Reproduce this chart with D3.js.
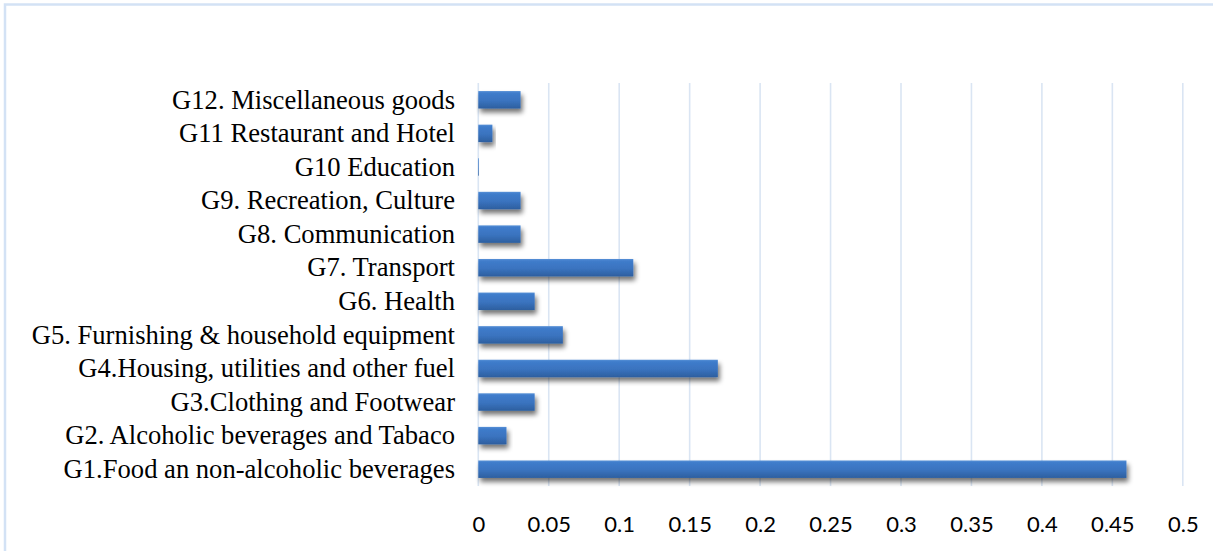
<!DOCTYPE html>
<html>
<head>
<meta charset="utf-8">
<script src="https://cdn.jsdelivr.net/npm/d3@7"></script>
<style>
  html, body { margin: 0; padding: 0; background: #fff; }
  svg { display: block; }
</style>
</head>
<body>
<svg id="chart" width="1213" height="551"></svg>
<script>
// Expenditure groups, listed from top to bottom as drawn
const categories = [
  "G12. Miscellaneous goods",
  "G11 Restaurant and Hotel",
  "G10 Education",
  "G9. Recreation, Culture",
  "G8. Communication",
  "G7. Transport",
  "G6. Health",
  "G5. Furnishing & household equipment",
  "G4.Housing, utilities and other fuel",
  "G3.Clothing and Footwear",
  "G2. Alcoholic beverages and Tabaco",
  "G1.Food an non-alcoholic beverages"
];
const values = [0.03, 0.01, 0.0005, 0.03, 0.03, 0.11, 0.04, 0.06, 0.17, 0.04, 0.02, 0.46];
const tickValues = [0, 0.05, 0.1, 0.15, 0.2, 0.25, 0.3, 0.35, 0.4, 0.45, 0.5];

const svg = d3.select("#chart");
const W = 1213, H = 551;
const plot = { left: 478.3, right: 1182.8, top: 83, bottom: 486 };

// Outer chart frame
svg.append("rect")
  .attr("x", 5).attr("y", 4.5)
  .attr("width", W + 20).attr("height", H + 20)
  .attr("fill", "#fff")
  .attr("stroke", "#d3e2f5")
  .attr("stroke-width", 2.5);

const defs = svg.append("defs");
const grad = defs.append("linearGradient")
  .attr("id", "barFill").attr("x1", 0).attr("y1", 0).attr("x2", 0).attr("y2", 1);
grad.append("stop").attr("offset", "0%").attr("stop-color", "#5790d6");
grad.append("stop").attr("offset", "12%").attr("stop-color", "#3f7ccb");
grad.append("stop").attr("offset", "55%").attr("stop-color", "#3a73bf");
grad.append("stop").attr("offset", "100%").attr("stop-color", "#2d5f9f");

const shadow = defs.append("filter").attr("id", "barShadow")
  .attr("x", "-10%").attr("y", "-40%").attr("width", "130%").attr("height", "200%");
shadow.append("feGaussianBlur").attr("in", "SourceAlpha").attr("stdDeviation", 2.4).attr("result", "b");
shadow.append("feOffset").attr("in", "b").attr("dx", 2).attr("dy", 3.5).attr("result", "o");
shadow.append("feComponentTransfer").attr("in", "o").attr("result", "s")
  .append("feFuncA").attr("type", "linear").attr("slope", 0.55);
const merge = shadow.append("feMerge");
merge.append("feMergeNode").attr("in", "s");
merge.append("feMergeNode").attr("in", "SourceGraphic");

const x = d3.scaleLinear().domain([0, 0.5]).range([plot.left, plot.right]);
const y = d3.scaleBand().domain(categories).range([plot.top, plot.bottom])
  .paddingInner(0.48).paddingOuter(0.24);

// Vertical gridlines (including the zero line)
svg.append("g")
  .selectAll("line")
  .data(tickValues)
  .join("line")
  .attr("x1", d => x(d)).attr("x2", d => x(d))
  .attr("y1", plot.top).attr("y2", plot.bottom)
  .attr("stroke", "#dae5f3")
  .attr("stroke-width", 1.6);

// Bars
svg.append("g")
  .selectAll("rect")
  .data(categories.map((c, i) => ({ c, v: values[i] })))
  .join("rect")
  .attr("x", x(0))
  .attr("y", d => y(d.c))
  .attr("width", d => x(d.v) - x(0))
  .attr("height", y.bandwidth())
  .attr("fill", "url(#barFill)")
  .attr("filter", "url(#barShadow)");

// Category labels
const yAxis = d3.axisLeft(y).tickSize(0).tickPadding(0);
const yg = svg.append("g").attr("transform", "translate(455,0)").call(yAxis);
yg.select(".domain").remove();
yg.selectAll("text")
  .attr("fill", "#000")
  .attr("dy", "0.33em")
  .style("font-family", "'Liberation Serif', 'Times New Roman', serif")
  .style("font-size", "26.6px");

// Value axis labels
const xAxis = d3.axisBottom(x).tickValues(tickValues).tickSize(0).tickPadding(0)
  .tickFormat(d => String(d));
const xg = svg.append("g").attr("transform", "translate(0,524)").call(xAxis);
xg.select(".domain").remove();
xg.selectAll("text")
  .attr("y", 0)
  .attr("dy", "0.36em")
  .attr("fill", "#000")
  .style("font-family", "Lato, 'Open Sans', sans-serif")
  .style("font-size", "22px");
</script>
</body>
</html>
